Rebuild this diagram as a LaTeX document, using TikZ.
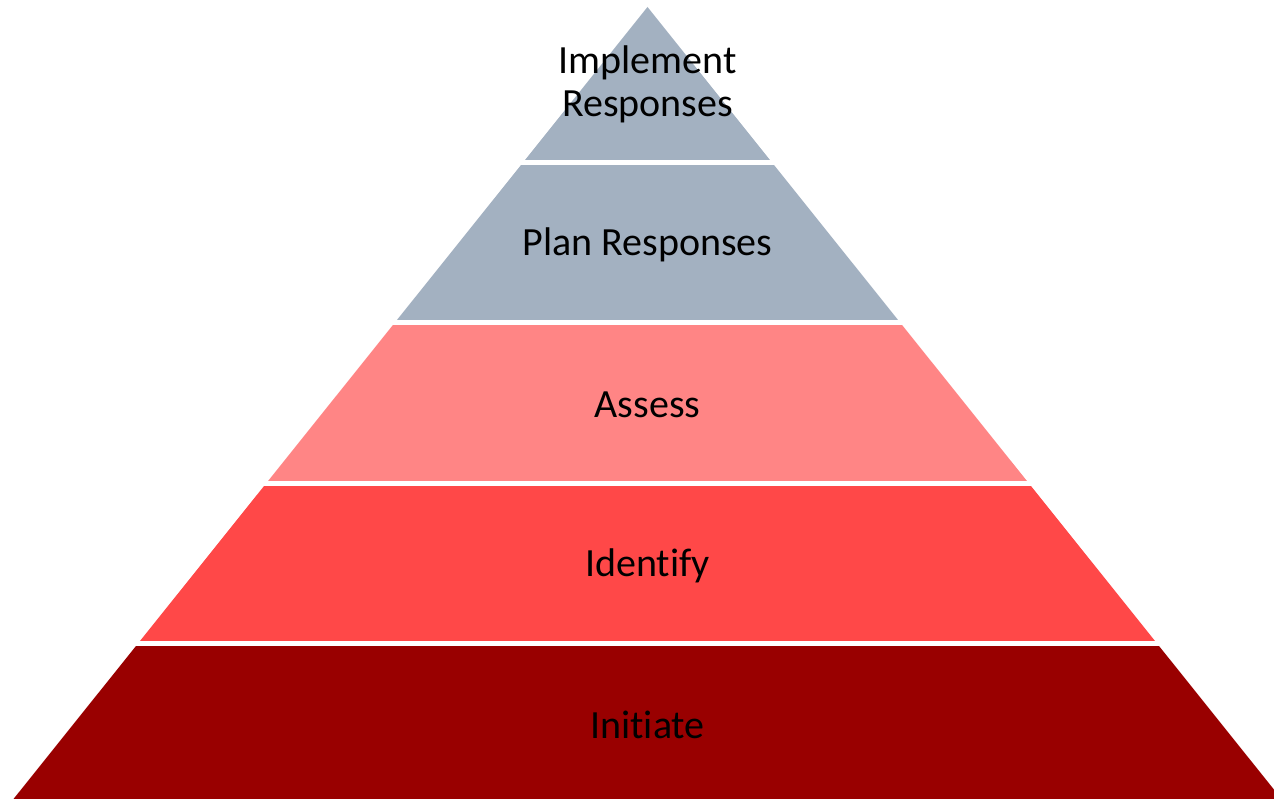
\documentclass[tikz,border=0pt]{standalone}
\usepackage{fontspec}
\setmainfont{Carlito}[RawFeature={-liga}]
\definecolor{slate}{HTML}{A3B1C1}
\definecolor{salmon}{HTML}{FF8585}
\definecolor{brightred}{HTML}{FF4848}
\definecolor{darkred}{HTML}{990000}
\begin{document}
\begin{tikzpicture}[x=1pt,y=1pt,
  label/.style={font=\fontsize{40}{43}\selectfont, align=center, text=black, inner sep=0pt}]
\useasboundingbox (0,0) rectangle (1274,799);
% pyramid outline used as a clip for the horizontal bands
\begin{scope}
  \clip (647.5,792) -- (13.5,0) -- (1281.5,0) -- cycle;
  \fill[slate]      (0,639) rectangle (1274,799);
  \fill[slate]      (0,479) rectangle (1274,634);
  \fill[salmon]     (0,318) rectangle (1274,474);
  \fill[brightred]  (0,158) rectangle (1274,313);
  \fill[darkred]    (0,-5)  rectangle (1274,153);
\end{scope}
\node[label] (implement) at (647.5,715) {Implement\\Responses};
\node[label] (plan)      at (647.5,554) {Plan Responses};
\node[label] (assess)    at (647.5,394) {Assess};
\node[label] (identify)  at (647.5,233) {Identify};
\node[label] (initiate)  at (647.5,74)  {Initiate};
\end{tikzpicture}
\end{document}
